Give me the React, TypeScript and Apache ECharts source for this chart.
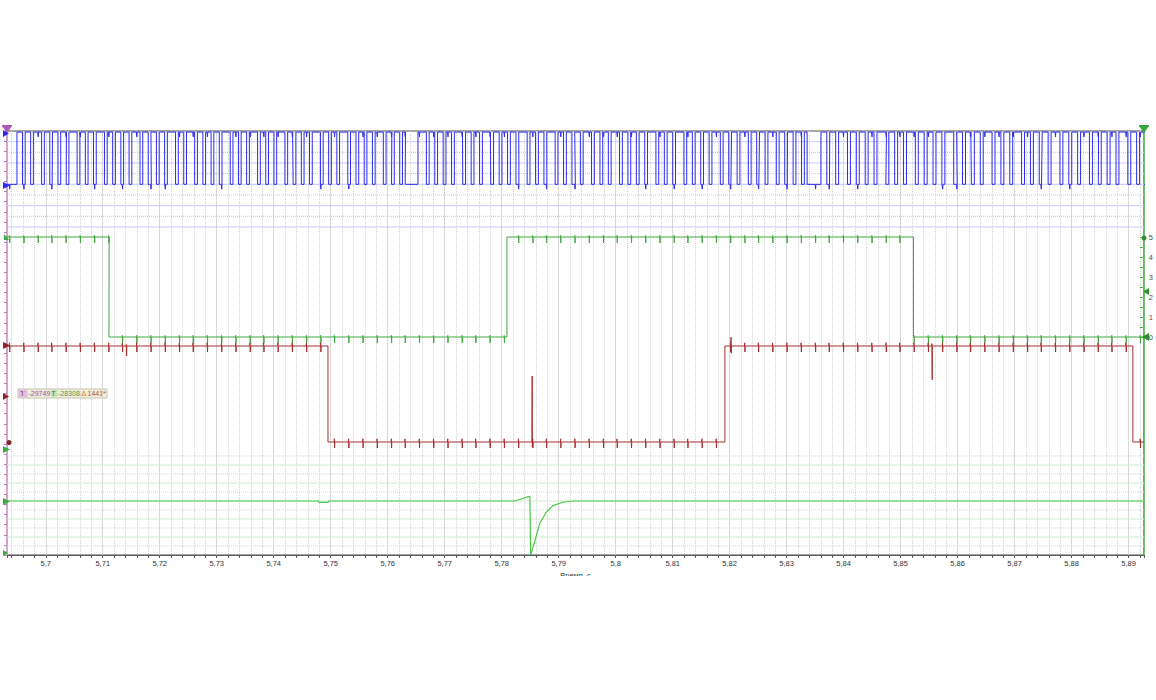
import React, { useEffect, useRef } from "react";
import * as echarts from "echarts";

// ---------- data ----------
const T_MIN = 5.6932;
const T_MAX = 5.8927;
const X_NAME = "Время, с";

// interference spikes shared by all channels (s)
const SPIKE_TIMES = [
  5.6936, 5.6961, 5.6986, 5.701, 5.7035, 5.706, 5.7085, 5.711, 5.7134, 5.7159,
  5.7184, 5.7209, 5.7234, 5.7258, 5.7283, 5.7308, 5.7333, 5.7358, 5.7382, 5.7407,
  5.7432, 5.7457, 5.7482, 5.7506, 5.7531, 5.7556, 5.7581, 5.7606, 5.763, 5.7655,
  5.768, 5.7705, 5.773, 5.7754, 5.7779, 5.7804, 5.7829, 5.7854, 5.7878, 5.7903,
  5.7928, 5.7953, 5.7978, 5.8002, 5.8027, 5.8052, 5.8077, 5.8102, 5.8126, 5.8151,
  5.8176, 5.8201, 5.8226, 5.825, 5.8275, 5.83, 5.8325, 5.835, 5.8374, 5.8399,
  5.8424, 5.8449, 5.8474, 5.8498, 5.8523, 5.8548, 5.8573, 5.8598, 5.8622, 5.8647,
  5.8672, 5.8697, 5.8722, 5.8746, 5.8771, 5.8796, 5.8821, 5.8846, 5.887, 5.8895,
  5.892,
];

// channel A (blue bus) – bursts of bits
const BLUE_BURST_START = [5.69495, 5.76531, 5.83601];
const BLUE_BURST_END = [5.76355, 5.83408, 5.894];
const BLUE_BITS = [
  "11011011101101101101110110110111011011011011101101101101110110111011011011011101101101110110110111011011011011101101101110110110110111011011010",
  "11101101101101110110110111011011011011101101101110110110110111011011011101101101101110110110111011011011011101101101110110110111011011011010",
  "1101101110110110110111011011011101101101101110110110110111011011011101101101101110110110111011011011011101101101",
];
const BLUE_HIGH = 8.9;
const BLUE_LOW = 4;
const BLUE_SPIKE_DOWN = 0.45;
const BLUE_GRID = [0, 1, 2, 3, 4, 5, 6, 7, 8];

// channel B (green digital, volts)
const GREEN_EDGE_T = [5.71109, 5.78092, 5.85225];
const GREEN_LEVELS = [5, 0, 5, 0];
const GREEN_SPIKE_UP = 0.08;
const GREEN_SPIKE_DOWN = 0.3;
const GREEN_TICKS = [0, 1, 2, 3, 4, 5];

// channel C (red)
const RED_EDGE_T = [5.74952, 5.81916, 5.89074];
const RED_LEVELS = [12, 0, 12, 0];
const RED_SPIKE_UP = 0.4;
const RED_SPIKE_DOWN = 0.75;
const RED_EXTRA_T = [5.7141, 5.7853, 5.8202, 5.85545];
const RED_EXTRA_UP = [0.2, 8.25, 1.1, 0.3];
const RED_EXTRA_DOWN = [1.25, 0.6, 0.9, 4.2];

// channel D (green analog)
const ANALOG_T = [
  5.6932, 5.7478, 5.748, 5.7495, 5.7497, 5.78232, 5.7835, 5.78466, 5.78495,
  5.78507, 5.78553, 5.78671, 5.78789, 5.78899, 5.79075, 5.7925, 5.8927,
];
const ANALOG_V = [
  0, 0, -0.15, -0.15, 0, 0, 0.25, 0.48, 0.5, -6, -5.08, -2.44, -1.19, -0.52,
  -0.14, 0, 0,
];
const ANALOG_GRID = [-5, -4, -3, -2, -1, 0, 1, 2, 3, 4, 5];

// cursor readout
const CURSOR_T1 = "-29749";
const CURSOR_T2 = "-28308";
const CURSOR_DELTA = "1441*";

// ---------- layout ----------
const W = 1156;
const H = 700;
const G_LEFT = 7;
const G_RIGHT_X = 1144;
const G_TOP = 131;
const G_BOTTOM_Y = 555;
const FONT = "'Liberation Sans', Arial, sans-serif";

function axisRange(zeroPx: number, pxPerUnit: number) {
  return {
    min: -(G_BOTTOM_Y - zeroPx) / pxPerUnit,
    max: (zeroPx - G_TOP) / pxPerUnit,
  };
}

type Ev = { t: number; edge: boolean; level?: number; up?: number; down?: number };

function buildTrace(initial: number, events: Ev[]): number[][] {
  const ev = events.slice().sort((a, b) => a.t - b.t);
  const e = 0.00004;
  let lvl = initial;
  const pts: number[][] = [[T_MIN, lvl]];
  for (const v of ev) {
    if (v.edge) {
      pts.push([v.t, lvl]);
      lvl = v.level as number;
      pts.push([v.t, lvl]);
    } else {
      pts.push([v.t, lvl], [v.t + e, lvl + (v.up || 0)], [v.t + 2 * e, lvl - (v.down || 0)], [v.t + 3 * e, lvl]);
    }
  }
  pts.push([T_MAX, lvl]);
  return pts;
}

function stepEvents(edgeT: number[], levels: number[]): Ev[] {
  return edgeT.map((t, i) => ({ t, edge: true, level: levels[i + 1] }));
}

function spikeEvents(up: number, down: number): Ev[] {
  return SPIKE_TIMES.map((t) => ({ t, edge: false, up, down }));
}

function blueEvents(): Ev[] {
  const evs: Ev[] = [];
  let cur = BLUE_LOW;
  BLUE_BITS.forEach((bits, b) => {
    const s = BLUE_BURST_START[b];
    const d = (BLUE_BURST_END[b] - s) / bits.length;
    for (let j = 0; j < bits.length; j++) {
      const lv = bits[j] === "1" ? BLUE_HIGH : BLUE_LOW;
      if (lv !== cur) {
        evs.push({ t: s + j * d, edge: true, level: lv });
        cur = lv;
      }
    }
    if (cur !== BLUE_LOW) {
      evs.push({ t: BLUE_BURST_END[b], edge: true, level: BLUE_LOW });
      cur = BLUE_LOW;
    }
  });
  return evs;
}

function gridLineSeries(levels: number[], yAxisIndex: number, color: string, dotColor: string) {
  return levels.map((v) => ({
    type: "line",
    xAxisIndex: 0,
    yAxisIndex,
    data: [
      [T_MIN, v],
      [T_MAX, v],
    ],
    symbol: "none",
    silent: true,
    z: 1,
    lineStyle: {
      width: 1,
      color: Math.abs(v) % 2 === 1 ? dotColor : color,
      type: Math.abs(v) % 2 === 1 ? "dotted" : "solid",
    },
  }));
}

function tri(points: number[][], fill: string) {
  return { type: "polygon", shape: { points }, style: { fill }, z: 50, silent: true };
}

export default function App() {
  const ref = useRef<HTMLDivElement>(null);

  useEffect(() => {
    if (!ref.current) return;
    const chart = echarts.init(ref.current, undefined, { renderer: "svg" });

    const blueR = axisRange(227, 10.667);
    const greenR = axisRange(337, 20);
    const redR = axisRange(442, 8);
    const anaR = axisRange(501, 9);

    const blueData = buildTrace(BLUE_LOW, [
      ...blueEvents(),
      ...spikeEvents(0, BLUE_SPIKE_DOWN),
    ]);
    const greenData = buildTrace(GREEN_LEVELS[0], [
      ...stepEvents(GREEN_EDGE_T, GREEN_LEVELS),
      ...spikeEvents(GREEN_SPIKE_UP, GREEN_SPIKE_DOWN),
    ]);
    const redData = buildTrace(RED_LEVELS[0], [
      ...stepEvents(RED_EDGE_T, RED_LEVELS),
      ...spikeEvents(RED_SPIKE_UP, RED_SPIKE_DOWN),
      ...RED_EXTRA_T.map((t, i) => ({ t, edge: false, up: RED_EXTRA_UP[i], down: RED_EXTRA_DOWN[i] })),
    ]);
    const anaData = ANALOG_T.map((t, i) => [t, ANALOG_V[i]]);

    const gridR = W - G_RIGHT_X;
    const hiddenY = (gridIndex: number, r: { min: number; max: number }) => ({
      type: "value",
      gridIndex,
      show: false,
      min: r.min,
      max: r.max,
    });

    const option: any = {
      animation: false,
      textStyle: { fontFamily: FONT },
      grid: [
        {
          left: G_LEFT,
          right: gridR,
          top: G_TOP,
          bottom: H - G_BOTTOM_Y,
          show: true,
          borderColor: "#4a4a4a",
          borderWidth: 1,
          backgroundColor: "#ffffff",
        },
        { left: G_LEFT, right: gridR, top: 237, height: 100, show: false },
      ],
      xAxis: [
        {
          type: "value",
          gridIndex: 0,
          position: "bottom",
          min: T_MIN,
          max: T_MAX,
          splitNumber: 20,
          axisLine: { show: true, lineStyle: { color: "#5a5a5a", width: 1 } },
          axisTick: { show: true, length: 3, lineStyle: { color: "#5a5a5a" } },
          axisLabel: {
            show: true,
            margin: 4,
            fontSize: 7.5,
            color: "#333333",
            showMinLabel: false,
            showMaxLabel: false,
            formatter: (v: number) => {
              const k = Math.round(v * 100);
              if (Math.abs(v * 100 - k) > 1e-6) return "";
              return String(k / 100).replace(".", ",");
            },
          },
          splitLine: { show: true, lineStyle: { color: "#dedede", width: 1 } },
          name: X_NAME,
          nameLocation: "middle",
          nameGap: 10,
          nameTextStyle: { fontSize: 7.5, color: "#333333", verticalAlign: "top" },
        },
        {
          type: "value",
          gridIndex: 0,
          position: "bottom",
          min: T_MIN,
          max: T_MAX,
          splitNumber: 100,
          axisLine: { show: false },
          axisTick: { show: true, length: 3, lineStyle: { color: "#5a5a5a" } },
          axisLabel: { show: false },
          splitLine: { show: true, lineStyle: { color: "#d2d2d2", width: 1, type: "dotted" } },
        },
        { type: "value", gridIndex: 1, show: false, min: T_MIN, max: T_MAX },
      ],
      yAxis: [
        {
          type: "value",
          gridIndex: 0,
          position: "left",
          min: 0,
          max: 42,
          interval: 1,
          axisLine: { show: true, lineStyle: { color: "#d6a2d6", width: 2 } },
          axisTick: { show: true, length: 3, inside: false, lineStyle: { color: "#a884a8" } },
          axisLabel: { show: false },
          splitLine: { show: false },
        },
        {
          type: "value",
          gridIndex: 0,
          position: "right",
          min: 0,
          max: 1,
          axisLine: { show: true, lineStyle: { color: "#4cb84c", width: 1.5 } },
          axisTick: { show: false },
          axisLabel: { show: false },
          splitLine: { show: false },
        },
        hiddenY(0, blueR),
        hiddenY(0, greenR),
        hiddenY(0, redR),
        hiddenY(0, anaR),
        {
          type: "value",
          gridIndex: 1,
          position: "right",
          min: GREEN_TICKS[0],
          max: GREEN_TICKS[GREEN_TICKS.length - 1],
          interval: 1,
          axisLine: { show: false },
          axisTick: { show: true, inside: true, length: 3, lineStyle: { color: "#4cb84c" } },
          minorTick: { show: true, splitNumber: 2, length: 3, lineStyle: { color: "#4cb84c" } },
          axisLabel: { show: true, margin: 6, fontSize: 7.5, color: "#4a4a4a" },
          splitLine: { show: false },
        },
      ],
      series: [
        ...gridLineSeries(BLUE_GRID, 2, "#c9c9ff", "#c2c2f6"),
        ...gridLineSeries(ANALOG_GRID, 5, "#cdebcd", "#bfe3bf"),
        {
          type: "line",
          xAxisIndex: 0,
          yAxisIndex: 2,
          data: blueData,
          symbol: "none",
          silent: true,
          z: 3,
          lineStyle: { color: "#2b2bee", width: 1 },
        },
        {
          type: "line",
          xAxisIndex: 0,
          yAxisIndex: 3,
          data: greenData,
          symbol: "none",
          silent: true,
          z: 3,
          lineStyle: { color: "#3fa83f", width: 1 },
        },
        {
          type: "line",
          xAxisIndex: 0,
          yAxisIndex: 4,
          data: redData,
          symbol: "none",
          silent: true,
          z: 3,
          lineStyle: { color: "#a53030", width: 1 },
        },
        {
          type: "line",
          xAxisIndex: 0,
          yAxisIndex: 5,
          data: anaData,
          symbol: "none",
          silent: true,
          z: 3,
          lineStyle: { color: "#48c848", width: 1.2 },
        },
      ],
      graphic: [
        // crop of the bottom of the picture
        { type: "rect", shape: { x: 0, y: 576, width: W, height: H - 576 }, style: { fill: "#ffffff" }, z: 100, silent: true },
        // trigger markers
        tri([[2, 126], [12, 126], [7, 133]], "#b05ab0"),
        { type: "rect", shape: { x: 2, y: 125, width: 10, height: 2 }, style: { fill: "#b05ab0" }, z: 51 },
        tri([[1139, 126], [1149, 126], [1144, 133]], "#3aa83a"),
        { type: "rect", shape: { x: 1139, y: 125, width: 10, height: 2 }, style: { fill: "#3aa83a" }, z: 51 },
        // left channel markers
        tri([[3, 130], [3, 137], [9, 133.5]], "#2b2bee"),
        tri([[3, 182], [3, 189], [10, 185.5]], "#2b2bee"),
        tri([[4, 234], [4, 240], [9, 240]], "#3fa83f"),
        tri([[3, 342], [3, 349], [10, 345.5]], "#8c2424"),
        tri([[3, 393], [3, 400], [9, 396.5]], "#8c2424"),
        { type: "circle", shape: { cx: 9, cy: 442.5, r: 2.5 }, style: { fill: "#8c2424" }, z: 50 },
        tri([[3, 446], [3, 453], [10, 449.5]], "#3fa83f"),
        tri([[3, 498], [3, 505], [10, 501.5]], "#3fa83f"),
        tri([[3, 550], [3, 556], [8, 553]], "#3fa83f"),
        // right channel markers
        { type: "circle", shape: { cx: 1144, cy: 238, r: 2.5 }, style: { fill: "#2f8f2f" }, z: 50 },
        tri([[1149, 288], [1149, 295], [1143, 291.5]], "#2f8f2f"),
        tri([[1149, 333], [1149, 341], [1142, 337]], "#2f8f2f"),
        // cursor readout
        {
          type: "group",
          x: 18,
          y: 389,
          z: 60,
          children: [
            { type: "rect", shape: { x: 0, y: 0, width: 89, height: 9 }, style: { fill: "#f1eddc", stroke: "#c9c3a8", lineWidth: 1 } },
            { type: "rect", shape: { x: 0.5, y: 0.5, width: 9, height: 8 }, style: { fill: "#dcc2dc" } },
            { type: "text", x: 2.5, y: 1, style: { text: "T", fill: "#9a4a9a", font: "bold 6.5px " + FONT } },
            { type: "text", x: 10.5, y: 1, style: { text: CURSOR_T1, fill: "#9a4a9a", font: "7px " + FONT } },
            { type: "rect", shape: { x: 33, y: 0.5, width: 6, height: 8 }, style: { fill: "#c6e4be" } },
            { type: "text", x: 33.5, y: 1, style: { text: "T", fill: "#4a9a4a", font: "bold 6.5px " + FONT } },
            { type: "text", x: 40, y: 1, style: { text: CURSOR_T2, fill: "#4a9a4a", font: "7px " + FONT } },
            { type: "text", x: 63.5, y: 1, style: { text: "Δ", fill: "#e07020", font: "7px " + FONT } },
            { type: "text", x: 69.5, y: 1, style: { text: CURSOR_DELTA, fill: "#b4561a", font: "7px " + FONT } },
          ],
        },
      ],
    };

    chart.setOption(option);
    return () => chart.dispose();
  }, []);

  return (
    <div
      ref={ref}
      style={{ position: "absolute", left: 0, top: 0, width: W, height: H, background: "#ffffff" }}
    />
  );
}
